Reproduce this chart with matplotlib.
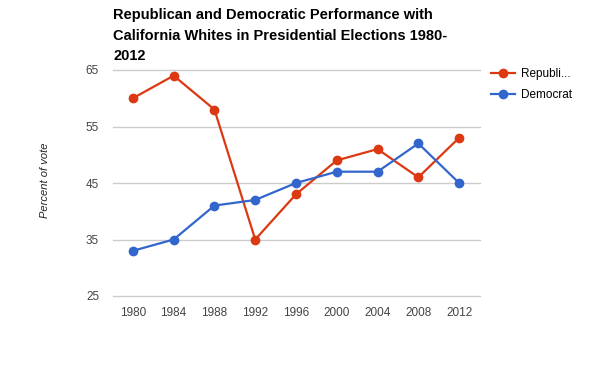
import matplotlib
matplotlib.use("Agg")
import matplotlib.pyplot as plt

years = [1980, 1984, 1988, 1992, 1996, 2000, 2004, 2008, 2012]
republican = [60, 64, 58, 35, 43, 49, 51, 46, 53]
democrat = [33, 35, 41, 42, 45, 47, 47, 52, 45]
y_ticks = [25, 35, 45, 55, 65]

plt.rcParams['font.family'] = ['Liberation Sans', 'DejaVu Sans']

fig = plt.figure(figsize=(5.93, 3.67), dpi=100)
ax = fig.add_axes([113 / 593, 1 - 296 / 367, 367 / 593, 226 / 367])

ax.plot(years, republican, color='#DC3912', lw=1.6, marker='o', ms=6,
        label='Republi...', zorder=3)
ax.plot(years, democrat, color='#3366CC', lw=1.6, marker='o', ms=6,
        label='Democrat', zorder=3)

ax.set_xlim(1978.05, 2014.05)
ax.set_ylim(25, 65)
ax.set_xticks(years)
ax.set_yticks(y_ticks)
ax.tick_params(length=0, labelsize=8.5, labelcolor='#444444', pad=8)
ax.tick_params(axis='y', pad=10)
ax.grid(axis='y', color='#cccccc', lw=1)
for gl in ax.get_ygridlines():
    gl.set_clip_on(False)
ax.set_axisbelow(True)
for s in ax.spines.values():
    s.set_visible(False)

fig.text(45 / 593, 1 - 180 / 367, 'Percent of vote', rotation=90, style='italic',
         fontsize=8, color='#222222', ha='center', va='center')

fig.text(113 / 593, 1 - 8 / 367,
         'Republican and Democratic Performance with\n'
         'California Whites in Presidential Elections 1980-\n2012',
         fontsize=10.5, fontweight='bold', ha='left', va='top', linespacing=1.6)

ax.legend(loc='upper left', bbox_to_anchor=(491 / 593, 1 - 68 / 367),
          bbox_transform=fig.transFigure, frameon=False, fontsize=8.5,
          handlelength=2.0, handletextpad=0.5, labelspacing=0.75,
          borderaxespad=0, borderpad=0)

fig.savefig('out.png', dpi=100)
